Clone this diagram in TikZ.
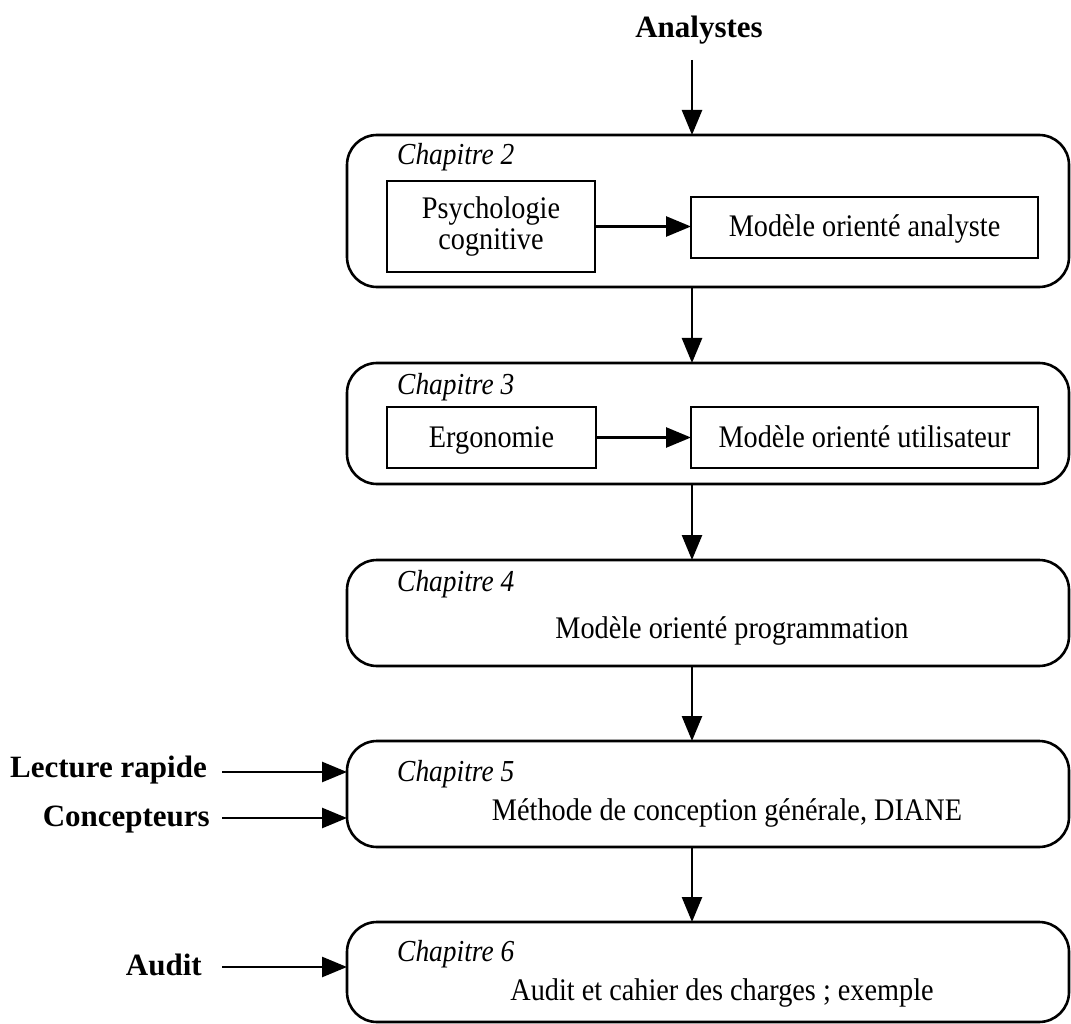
\documentclass[tikz,border=0pt]{standalone}
\usepackage{fontspec}
\setmainfont{Liberation Serif}
\newfontfamily\narrowserif{Liberation Serif}[FakeStretch=0.9]
\usetikzlibrary{arrows.meta}
\newcommand\fdreg{\narrowserif\fontsize{31.4}{31}\selectfont}
\newcommand\fdital{\narrowserif\fontsize{30.5}{31}\selectfont\itshape}
\newcommand\fdbold{\fontsize{31}{34}\selectfont\bfseries}
\begin{document}
\begin{tikzpicture}[x=1pt,y=-1pt,
  chapbox/.style={draw, line width=2.6pt, rounded corners=30pt, minimum width=722pt,
                  inner sep=0pt, outer sep=0pt},
  inbox/.style={draw, line width=2.6pt, inner sep=0pt, outer sep=0pt, align=center,
                font=\fdreg},
  oneline/.style={text height=19pt, text depth=0pt},
  chaplab/.style={anchor=base west, inner sep=0pt, font=\fdital},
  maintext/.style={anchor=base, inner sep=0pt, font=\fdreg},
  lab/.style={inner sep=0pt, font=\fdbold},
  flow/.style={line width=2.6pt, -{Triangle[length=25pt,width=20pt]}}]
\useasboundingbox (0,0) rectangle (1071,1024);

% chapter frames
\node[chapbox, minimum height=152pt] (b1) at (708,211) {};
\node[chapbox, minimum height=121pt] (b2) at (708,423.5) {};
\node[chapbox, minimum height=106pt] (b3) at (708,613) {};
\node[chapbox, minimum height=106pt] (b4) at (708,794) {};
\node[chapbox, minimum height=100pt] (b5) at (708,972) {};

% chapter titles
\node[chaplab] (c2) at (397,165) {Chapitre 2};
\node[chaplab] (c3) at (397,394) {Chapitre 3};
\node[chaplab] (c4) at (397,591) {Chapitre 4};
\node[chaplab] (c5) at (397,781) {Chapitre 5};
\node[chaplab] (c6) at (397,961) {Chapitre 6};

% chapter 2 contents
\node[inbox, minimum width=208pt, minimum height=91pt] (psy) at (491,226.5)
  {Psychologie\\cognitive};
\node[inbox, oneline, minimum width=347pt, minimum height=61pt] (mana) at (864.5,227.5)
  {Modèle orienté analyste};
\draw[flow] (psy.east) -- (psy.east -| mana.west);

% chapter 3 contents
\node[inbox, oneline, minimum width=209pt, minimum height=61pt] (ergo) at (491.5,437.5)
  {Ergonomie};
\node[inbox, oneline, minimum width=347pt, minimum height=61pt] (muti) at (864.5,437.5)
  {Modèle orienté utilisateur};
\draw[flow] (ergo.east) -- (ergo.east -| muti.west);

% chapters 4 to 6 contents
\node[maintext] (t4) at (732,638) {Modèle orienté programmation};
\node[maintext] (t5) at (727,820) {Méthode de conception générale, DIANE};
\node[maintext] (t6) at (722,1000) {Audit et cahier des charges ; exemple};

% readers
\node[lab, anchor=base] (an) at (699,38) {Analystes};
\node[lab, anchor=base east] (lr) at (207,777) {Lecture rapide};
\node[lab, anchor=base east] (co) at (210,826) {Concepteurs};
\node[lab, anchor=base east] (au) at (202,975) {Audit};

% main flow
\coordinate (axis) at (692,0);
\coordinate (ats) at (692,60);
\draw[flow] (ats) -- (ats |- b1.north);
\draw[flow] (axis |- b1.south) -- (axis |- b2.north);
\draw[flow] (axis |- b2.south) -- (axis |- b3.north);
\draw[flow] (axis |- b3.south) -- (axis |- b4.north);
\draw[flow] (axis |- b4.south) -- (axis |- b5.north);

% side entries
\coordinate (lrs) at (222,772);
\coordinate (cos) at (222,818);
\coordinate (aus) at (222,967);
\draw[flow] (lrs) -- (lrs -| b4.west);
\draw[flow] (cos) -- (cos -| b4.west);
\draw[flow] (aus) -- (aus -| b5.west);
\end{tikzpicture}
\end{document}
